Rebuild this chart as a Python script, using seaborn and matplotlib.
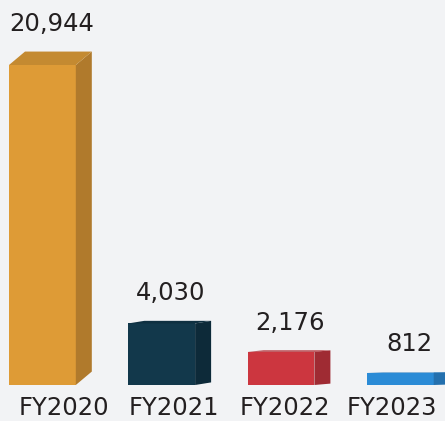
import pandas as pd
import numpy as np
import matplotlib.pyplot as plt
import matplotlib.transforms as mtransforms
import seaborn as sns
from matplotlib.patches import Polygon

years = ["FY2020", "FY2021", "FY2022", "FY2023"]
values = [20944, 4030, 2176, 812]
front_colors = ["#de9b36", "#12384b", "#cc363f", "#2b8bd6"]
top_colors = ["#c48a31", "#0f3041", "#b02f37", "#2679bd"]
side_colors = ["#b07a2c", "#0d2a39", "#9f2b33", "#2470ae"]

df = pd.DataFrame({"year": years, "value": values})

sns.set_style("white")
plt.rcParams["font.family"] = ["DejaVu Sans"]

fig = plt.figure(figsize=(4.45, 4.21), dpi=100, facecolor="#f2f3f5")
ax = fig.add_axes([0, 36 / 421, 1, 385 / 421])
ax.set_facecolor("#f2f3f5")

sns.barplot(data=df, x="year", y="value", hue="year", palette=front_colors,
            width=0.56, saturation=1, legend=False, linewidth=0, ax=ax)

px_x = 1 / 119.3          # data units per pixel along x
ax.set_xlim(-0.28 - 9 * px_x, -0.28 - 9 * px_x + 445 * px_x)
ax.set_ylim(0, 385 * 65.45)

dx = 16 * px_x
for i, bar in enumerate(ax.patches[:len(values)]):
    x = bar.get_x()
    w = bar.get_width()
    h = bar.get_height()
    dy = 0.042 * h
    side = Polygon([(x + w, 0), (x + w, h), (x + w + dx, h + dy), (x + w + dx, dy)],
                   closed=True, facecolor=side_colors[i], edgecolor="none")
    top = Polygon([(x, h), (x + w, h), (x + w + dx, h + dy), (x + dx, h + dy)],
                  closed=True, facecolor=top_colors[i], edgecolor="none")
    ax.add_patch(side)
    ax.add_patch(top)
    ax.annotate(f"{values[i]:,}", (x + (w + dx) / 2, h + dy),
                xytext=(1, 15), textcoords="offset points",
                ha="center", va="baseline", fontsize=17.5, color="#231f20")

ax.set_xlabel("")
ax.set_ylabel("")
ax.set_yticks([])
ax.tick_params(axis="x", length=0, pad=8, labelsize=17.5, labelcolor="#231f20")

# tick labels sit a little off the bar centres in the original
shifts = [22, 12, 4, -8]
for lbl, s in zip(ax.get_xticklabels(), shifts):
    lbl.set_transform(lbl.get_transform() +
                      mtransforms.ScaledTranslation(s / 100, 0, fig.dpi_scale_trans))

sns.despine(ax=ax, left=True, bottom=True)

plt.savefig("out.png", dpi=100, facecolor=fig.get_facecolor())
